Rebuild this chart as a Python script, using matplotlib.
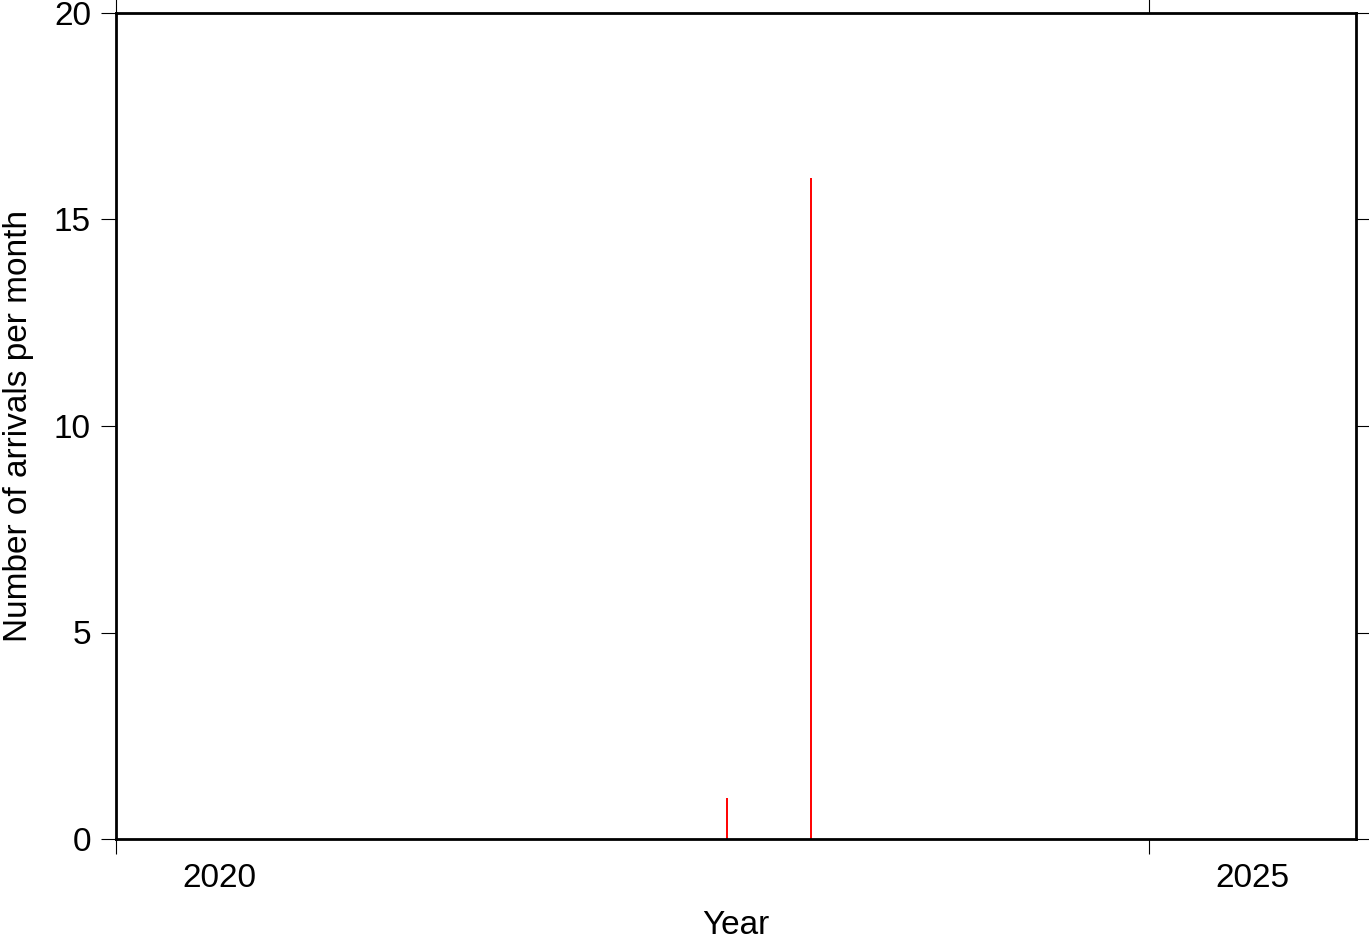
import matplotlib
matplotlib.use("Agg")
import matplotlib.pyplot as plt
import datetime as dt

# monthly arrival counts (only non-empty months)
dates = ["2022-12-15", "2023-05-13"]
counts = [1, 16]

year_ticks = [2020, 2025]
year_labels = ["2020", "2025"]


def to_decimal(s):
    d = dt.date.fromisoformat(s)
    start = dt.date(d.year, 1, 1)
    n = (dt.date(d.year + 1, 1, 1) - start).days
    return d.year + ((d - start).days + 0.5) / n


xs = [to_decimal(s) for s in dates]

plt.rcParams['font.family'] = ['Liberation Sans', 'DejaVu Sans']

fig = plt.figure(figsize=(13.69, 9.42), dpi=100)
ax = fig.add_axes([116 / 1369, 103 / 942, 1240 / 1369, 826 / 942])

ax.vlines(xs, 0, counts, colors="red", linewidth=1.4)

ax.set_xlim(2020, 2026)
ax.set_ylim(0, 20)

# major ticks at year boundaries, labels centred in the year interval
ax.set_xticks(year_ticks)
ax.set_xticklabels([])
ax.set_xticks([y + 0.5 for y in year_ticks], minor=True)
ax.set_xticklabels(year_labels, minor=True)
ax.tick_params(axis="x", which="minor", length=0, pad=17, labelsize=24)
ax.tick_params(axis="x", which="major", direction="out", length=11, width=0.8,
               top=True, bottom=True)

ax.set_yticks([0, 5, 10, 15, 20])
ax.tick_params(axis="y", direction="out", length=11, width=0.8, pad=7,
               labelsize=24, left=True, right=True)

for s in ax.spines.values():
    s.set_linewidth(2)

ax.set_xlabel("Year", fontsize=24, labelpad=12)
ax.set_ylabel("Number of arrivals per month", fontsize=24, labelpad=14)

fig.savefig("out.png", dpi=100)
